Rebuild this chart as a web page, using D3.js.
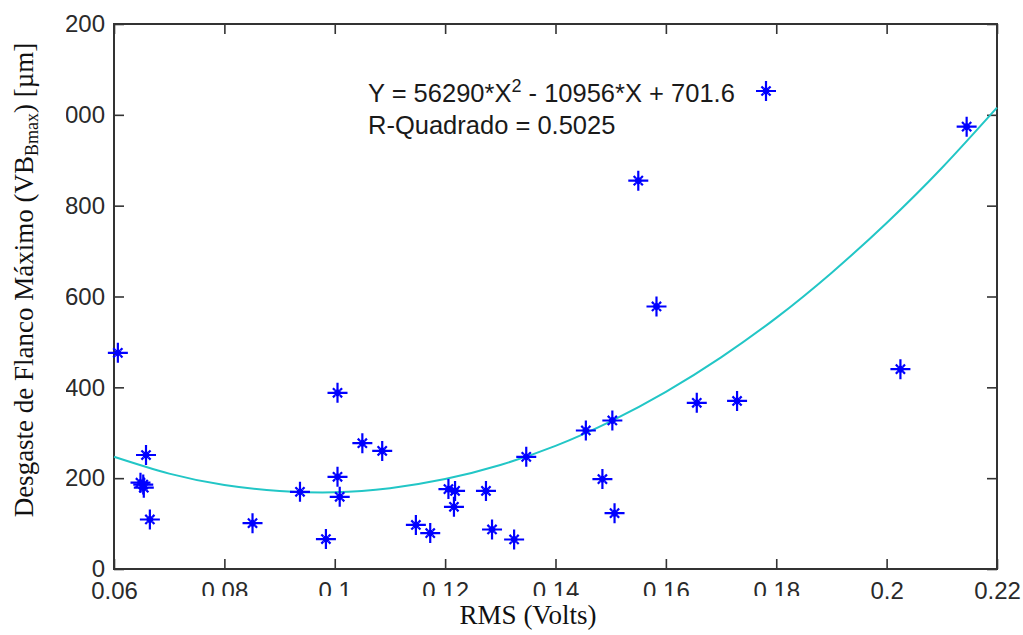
<!DOCTYPE html>
<html>
<head>
<meta charset="utf-8">
<script src="https://cdn.jsdelivr.net/npm/d3@7/dist/d3.min.js"></script>
<style>
  body { margin: 0; background: #fff; }
</style>
</head>
<body>
<div id="chart"></div>
<script>
// measured points: RMS (Volts) vs flank wear VBBmax (µm)
const rmsValues = [0.0607, 0.0658, 0.0648, 0.0653, 0.0654, 0.0665, 0.0851, 0.0937, 0.0984, 0.1005,
                   0.1005, 0.1009, 0.1050, 0.1086, 0.1147, 0.1173, 0.1206, 0.1218, 0.1216, 0.1274,
                   0.1285, 0.1325, 0.1347, 0.1455, 0.1485, 0.1503, 0.1507, 0.1550, 0.1583, 0.1656,
                   0.1729, 0.2025, 0.2145];
const wearValues = [476, 251, 190, 186, 179, 109, 101, 170, 66, 388,
                    203, 159, 277, 260, 97, 79, 176, 172, 137, 172,
                    87, 65, 247, 305, 198, 327, 123, 855, 578, 366,
                    370, 440, 974];

// fitted curve
const fitRms = [0.06, 0.07, 0.08, 0.09, 0.10, 0.11, 0.12, 0.13, 0.14, 0.15, 0.16, 0.17, 0.18, 0.19, 0.20, 0.21, 0.22];
const fitWear = [247, 210, 185, 172, 169, 178, 198, 229, 271, 325, 390, 466, 553, 652, 762, 883, 1016];

const xTicks = [0.06, 0.08, 0.10, 0.12, 0.14, 0.16, 0.18, 0.20, 0.22];
const xTickLabels = ["0.06", "0.08", "0.1", "0.12", "0.14", "0.16", "0.18", "0.2", "0.22"];
const yTicks = [0, 200, 400, 600, 800, 1000, 1200];

const width = 1023;
const height = 635;
const marginLeft = 114;
const marginRight = 26;
const marginTop = 24;
const marginBottom = 66;
const axisColor = "#333";
const tickFont = "'Liberation Sans', Arial, sans-serif";
const serifFont = "'Liberation Serif', 'Times New Roman', serif";

const x = d3.scaleLinear()
    .domain([0.06, 0.22])
    .range([marginLeft, width - marginRight]);
const y = d3.scaleLinear()
    .domain([0, 1200])
    .range([height - marginBottom, marginTop]);

const svg = d3.select("#chart").append("svg")
    .attr("width", width)
    .attr("height", height)
    .attr("viewBox", [0, 0, width, height]);

svg.append("rect").attr("width", width).attr("height", height).attr("fill", "#fff");

svg.append("clipPath").attr("id", "yclip")
  .append("rect")
    .attr("x", 66).attr("y", 0)
    .attr("width", width).attr("height", height);

function styleAxis(g) {
    g.select(".domain").remove();
    g.selectAll(".tick line").attr("stroke", axisColor).attr("stroke-width", 1.6);
    g.selectAll(".tick text")
        .attr("fill", "#2a2a2a")
        .attr("font-family", tickFont)
        .attr("font-size", 24);
}

// bottom axis
svg.append("g")
    .attr("transform", `translate(0,${height - marginBottom})`)
    .call(d3.axisBottom(x).tickValues(xTicks)
        .tickFormat((d, i) => xTickLabels[i])
        .tickSizeInner(-10).tickSizeOuter(0).tickPadding(13))
    .call(styleAxis);

// top axis (ticks only)
svg.append("g")
    .attr("transform", `translate(0,${marginTop})`)
    .call(d3.axisTop(x).tickValues(xTicks).tickFormat("")
        .tickSizeInner(-10).tickSizeOuter(0))
    .call(styleAxis);

// left axis, labels cut at the figure's left crop
svg.append("g")
    .attr("clip-path", "url(#yclip)")
  .append("g")
    .attr("transform", `translate(${marginLeft},0)`)
    .call(d3.axisLeft(y).tickValues(yTicks)
        .tickSizeInner(-10).tickSizeOuter(0).tickPadding(9))
    .call(styleAxis);

// right axis (ticks only)
svg.append("g")
    .attr("transform", `translate(${width - marginRight},0)`)
    .call(d3.axisRight(y).tickValues(yTicks).tickFormat("")
        .tickSizeInner(-10).tickSizeOuter(0))
    .call(styleAxis);

// white patch that hides the bottom of the middle tick labels
svg.append("rect")
    .attr("x", 150).attr("y", 596)
    .attr("width", 690).attr("height", height - 596)
    .attr("fill", "#fff");

// frame
svg.append("rect")
    .attr("x", x(0.06)).attr("y", y(1200))
    .attr("width", x(0.22) - x(0.06))
    .attr("height", y(0) - y(1200))
    .attr("fill", "none")
    .attr("stroke", axisColor)
    .attr("stroke-width", 2);

// fitted curve
const line = d3.line()
    .x((d, i) => x(fitRms[i]))
    .y(d => y(d))
    .curve(d3.curveNatural);

svg.append("path")
    .datum(fitWear)
    .attr("d", line)
    .attr("fill", "none")
    .attr("stroke", "#22c6c6")
    .attr("stroke-width", 2);

// star marker like MATLAB '*'
const starPath = (() => {
    const r = 10, a = 3.5, b = 6.5, c = Math.SQRT1_2;
    return `M${-r},0H${r}M0,${-r}V${r}` +
        `M${a * c},${a * c}L${b * c},${b * c}M${-a * c},${-a * c}L${-b * c},${-b * c}` +
        `M${a * c},${-a * c}L${b * c},${-b * c}M${-a * c},${a * c}L${-b * c},${b * c}`;
})();

function drawStar(sel) {
    sel.append("path")
        .attr("d", starPath)
        .attr("stroke", "#0000ff")
        .attr("stroke-width", 2.2)
        .attr("fill", "none");
    sel.append("circle")
        .attr("r", 3.4)
        .attr("fill", "#0000ff");
}

svg.append("g")
  .selectAll("g")
  .data(rmsValues)
  .join("g")
    .attr("transform", (d, i) => `translate(${x(d)},${y(wearValues[i])})`)
    .call(drawStar);

// legend
const legend = svg.append("g")
    .attr("font-family", tickFont)
    .attr("font-size", 25.5)
    .attr("fill", "#1a1a1a");

const eq = legend.append("text").attr("x", 368).attr("y", 102);
eq.append("tspan").text("Y = 56290*X");
eq.append("tspan").attr("font-size", 18).attr("dy", -10).text("2");
eq.append("tspan").attr("dy", 10).text(" - 10956*X + 701.6");

legend.append("text")
    .attr("x", 368).attr("y", 134)
    .text("R-Quadrado = 0.5025");

legend.append("g")
    .attr("transform", "translate(766,91)")
    .call(drawStar);

// axis titles
svg.append("text")
    .attr("x", 528).attr("y", 624)
    .attr("text-anchor", "middle")
    .attr("font-family", serifFont)
    .attr("font-size", 27)
    .attr("fill", "#111")
    .text("RMS (Volts)");

const yTitle = svg.append("text")
    .attr("transform", "translate(33,280) rotate(-90)")
    .attr("text-anchor", "middle")
    .attr("font-family", serifFont)
    .attr("font-size", 27)
    .attr("fill", "#111");
yTitle.append("tspan").text("Desgaste de Flanco Máximo (VB");
yTitle.append("tspan").attr("font-size", 18).attr("dy", 5).text("Bmax");
yTitle.append("tspan").attr("dy", -5).text(") [µm]");
</script>
</body>
</html>
